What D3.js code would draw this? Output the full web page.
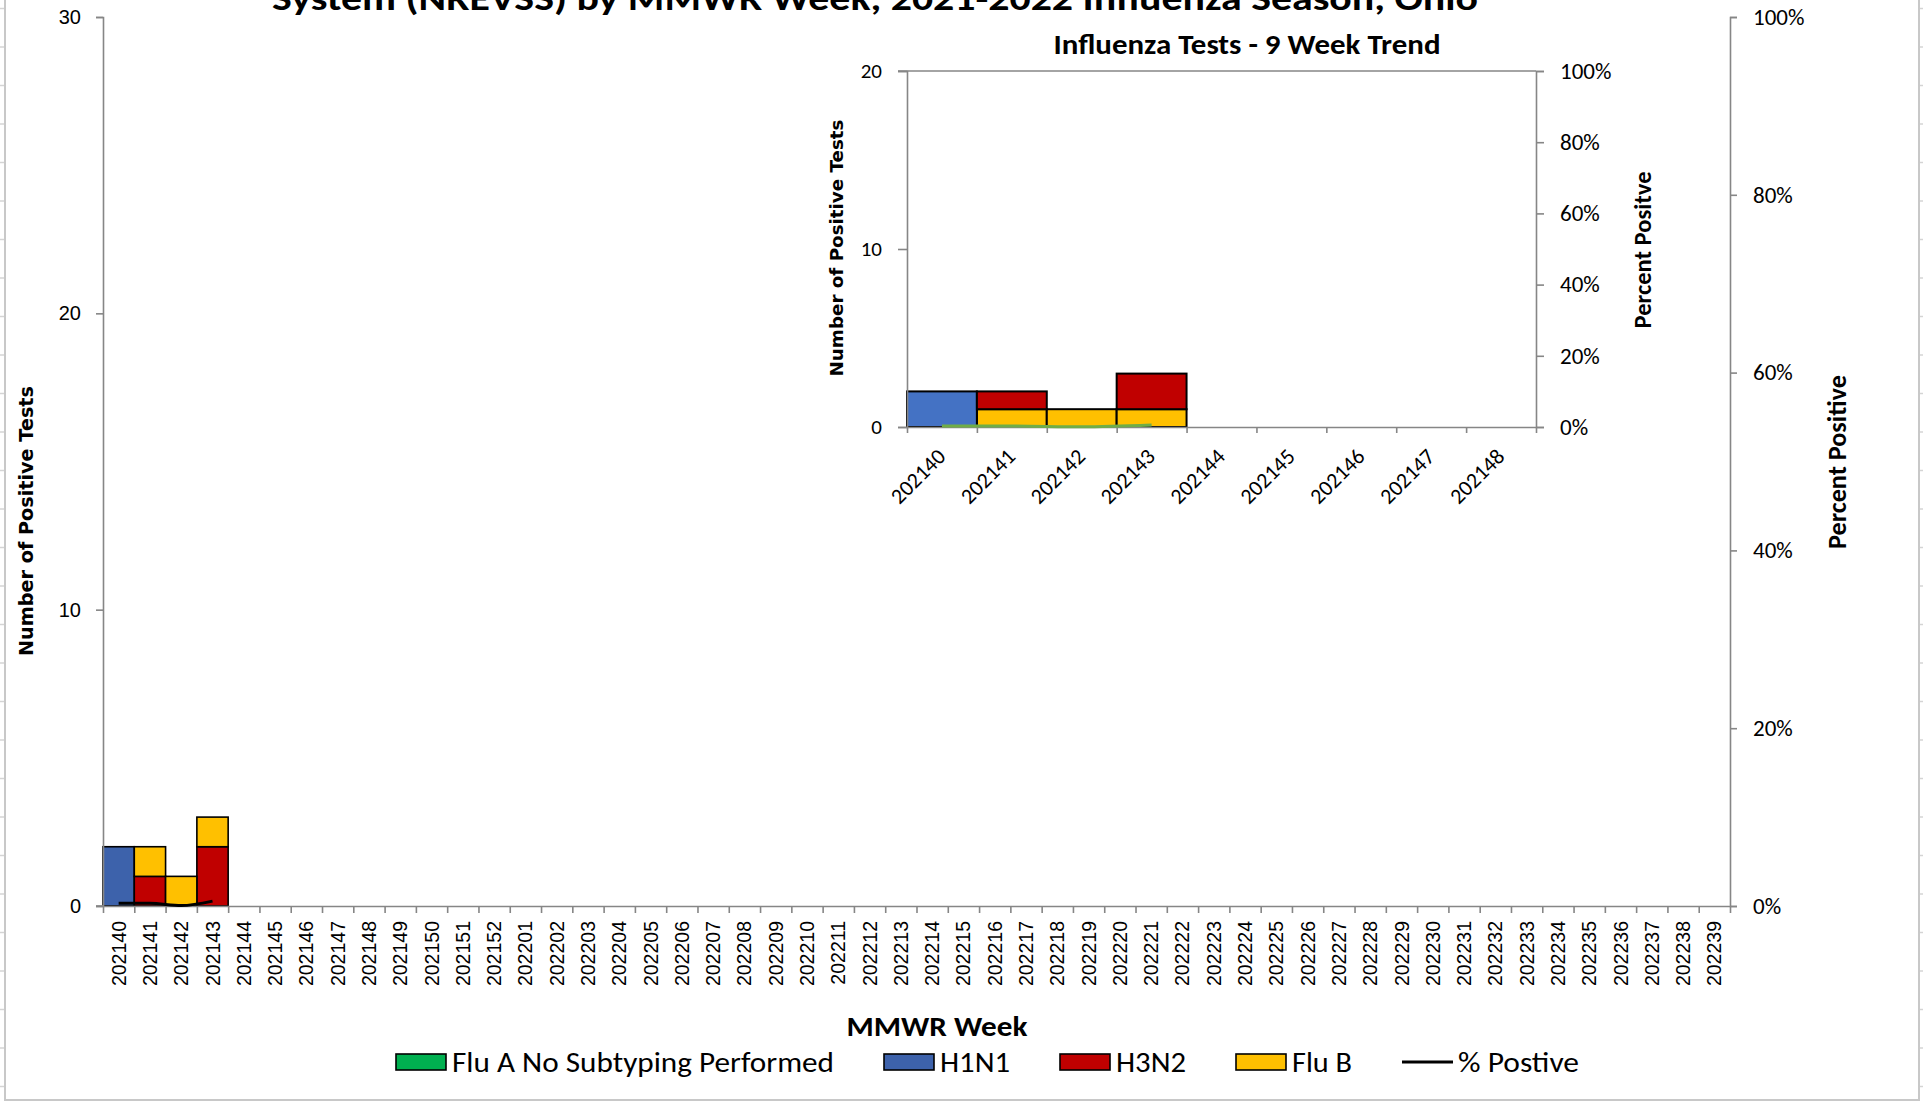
<!DOCTYPE html>
<html>
<head>
<meta charset="utf-8">
<script src="https://cdn.jsdelivr.net/npm/d3@7"></script>
<style>
  html, body { margin: 0; padding: 0; background: #fff; }
  svg { display: block; }
</style>
</head>
<body>
<svg id="chart" width="1923" height="1102"></svg>
<script>
// ---------------- DATA ----------------
const weeks = ["202140","202141","202142","202143","202144","202145","202146","202147","202148","202149","202150","202151","202152",
  "202201","202202","202203","202204","202205","202206","202207","202208","202209","202210","202211","202212","202213",
  "202214","202215","202216","202217","202218","202219","202220","202221","202222","202223","202224","202225","202226",
  "202227","202228","202229","202230","202231","202232","202233","202234","202235","202236","202237","202238","202239"];
const fluA = [0,0,0,0];
const h1n1 = [2,0,0,0];
const h3n2 = [0,1,0,2];
const fluB = [0,1,1,1];
const pctPositive = [0.003,0.003,0.0005,0.0055];

const insetWeeks = ["202140","202141","202142","202143","202144","202145","202146","202147","202148"];
const insetFluA = [0,0,0,0];
const insetFluB = [0,1,1,1];
const insetH1N1 = [2,0,0,0];
const insetH3N2 = [0,1,0,2];
const insetPct = [0.003,0.003,0.0005,0.0055];

const leftTicks = [0,10,20,30];
const pctTicks = [0,0.2,0.4,0.6,0.8,1];
const insetLeftTicks = [0,10,20];

const seriesNames = ["Flu A No Subtyping Performed","H1N1","H3N2","Flu B"];
const legendLabels = ["Flu A No Subtyping Performed","H1N1","H3N2","Flu B","% Postive"];

// ---------------- STYLE ----------------
const colMain = {"Flu A No Subtyping Performed":"#00b050","H1N1":"#3d62ab","H3N2":"#c00000","Flu B":"#ffc000"};
const colInset = {"Flu A No Subtyping Performed":"#00b050","H1N1":"#4472c4","H3N2":"#c00000","Flu B":"#ffc000"};
const axisCol = "#868686";
const cal = "Carlito, Calibri, Lato, sans-serif";
const arial = "'Liberation Sans', Arial, sans-serif";
const verd = "'DejaVu Sans', Verdana, sans-serif";

const svg = d3.select("#chart");

// ---------------- SPREADSHEET FRAME ----------------
const frame = svg.append("g");
const gridYs = d3.range(8.5, 1102, 38.5);
frame.selectAll("line.gl").data(gridYs).join("line")
  .attr("x1",0).attr("x2",4).attr("y1",d=>d).attr("y2",d=>d).attr("stroke","#d4d4d4").attr("stroke-width",1.5);
frame.selectAll("line.gr").data(gridYs).join("line")
  .attr("x1",1920).attr("x2",1923).attr("y1",d=>d).attr("y2",d=>d).attr("stroke","#d4d4d4").attr("stroke-width",1.5);
frame.append("path").attr("d","M5,0 V1100 H1919 V0").attr("fill","none").attr("stroke","#c8c8c8").attr("stroke-width",2);

// ---------------- MAIN CHART ----------------
const x = d3.scaleBand().domain(weeks).range([103,1730]).padding(0);
const y = d3.scaleLinear().domain([0,30]).range([906,17]);
const yR = d3.scaleLinear().domain([0,1]).range([906,17]);
const xi = d3.scaleLinear().domain([0,weeks.length]).range([103,1730]);

// stacked data: order bottom -> top : FluA, H1N1, H3N2, FluB
const mainRows = weeks.map((w,i)=>({week:w,
  "Flu A No Subtyping Performed": fluA[i]||0, "H1N1": h1n1[i]||0, "H3N2": h3n2[i]||0, "Flu B": fluB[i]||0}));
const mainStack = d3.stack().keys(["Flu A No Subtyping Performed","H1N1","H3N2","Flu B"])(mainRows);

const gMain = svg.append("g");
gMain.selectAll("g.layer").data(mainStack).join("g")
  .attr("fill", d=>colMain[d.key])
  .selectAll("rect").data(d=>d.filter(p=>p[1]-p[0]>0)).join("rect")
  .attr("x", d=>x(d.data.week)).attr("width", x.bandwidth())
  .attr("y", d=>y(d[1])).attr("height", d=>y(d[0])-y(d[1]))
  .attr("stroke","#000").attr("stroke-width",1.6);

// axes
const axL = gMain.append("g").attr("transform","translate(103,0)")
  .call(d3.axisLeft(y).tickValues(leftTicks).tickSize(7).tickPadding(15));
const axR = gMain.append("g").attr("transform","translate(1730,0)")
  .call(d3.axisRight(yR).tickValues(pctTicks).tickFormat(d3.format(".0%")).tickSize(7).tickPadding(16));
const axBt = gMain.append("g").attr("transform","translate(0,906)")
  .call(d3.axisBottom(xi).tickValues(d3.range(weeks.length+1)).tickFormat("").tickSize(7).tickSizeOuter(0));
const axBl = gMain.append("g").attr("transform","translate(0,906)")
  .call(d3.axisBottom(x).tickSize(0).tickPadding(0));
axBl.select(".domain").remove();
axBl.selectAll("text")
  .attr("transform","translate(0,9) rotate(-90)")
  .attr("text-anchor","end").attr("x",-6).attr("y",0).attr("dy","0.36em")
  .style("font-family",arial).style("font-size","19.5px").attr("fill","#000");
[axL,axR,axBt].forEach(a=>{
  a.select(".domain").attr("stroke",axisCol).attr("stroke-width",1.6);
  a.selectAll(".tick line").attr("stroke",axisCol).attr("stroke-width",1.6);
});
axL.selectAll("text").style("font-family",arial).style("font-size","20px").attr("fill","#000");
axR.selectAll("text").style("font-family",cal).style("font-size","23px").attr("fill","#000");
gMain.append("line").attr("x1",96).attr("x2",103).attr("y1",906).attr("y2",906).attr("stroke",axisCol).attr("stroke-width",1.6);

// percent line
const pctPts = pctPositive.map((v,i)=>({week:weeks[i],v}));
gMain.append("path").datum(pctPts)
  .attr("d", d3.line().x(d=>x(d.week)+x.bandwidth()/2).y(d=>yR(d.v)).curve(d3.curveMonotoneX))
  .attr("fill","none").attr("stroke","#000").attr("stroke-width",3);

// titles
svg.append("text").attr("x",875).attr("y",10).attr("text-anchor","middle")
  .attr("textLength",1206).attr("lengthAdjust","spacingAndGlyphs")
  .style("font-family",cal).style("font-weight","bold").style("font-size","34px")
  .text("System (NREVSS) by MMWR Week,  2021-2022 Influenza Season, Ohio");
svg.append("text").attr("transform","translate(33,521) rotate(-90)").attr("text-anchor","middle")
  .attr("textLength",270).attr("lengthAdjust","spacingAndGlyphs")
  .style("font-family",verd).style("font-weight","bold").style("font-size","19px")
  .text("Number of Positive Tests");
svg.append("text").attr("transform","translate(1846,462) rotate(-90)").attr("text-anchor","middle")
  .attr("textLength",174).attr("lengthAdjust","spacingAndGlyphs")
  .style("font-family",cal).style("font-weight","bold").style("font-size","26px")
  .text("Percent Positive");
svg.append("text").attr("x",937).attr("y",1036).attr("text-anchor","middle")
  .attr("textLength",181).attr("lengthAdjust","spacingAndGlyphs")
  .style("font-family",cal).style("font-weight","bold").style("font-size","29px")
  .text("MMWR Week");

// legend
const legW = [382,70,70,60,121];
const lg = svg.append("g");
let lx = 396;
legendLabels.forEach((lab,i)=>{
  if (i<4) {
    lg.append("rect").attr("x",lx).attr("y",1054).attr("width",50).attr("height",16)
      .attr("fill",colMain[lab]).attr("stroke","#000").attr("stroke-width",1.6);
  } else {
    lg.append("line").attr("x1",lx).attr("x2",lx+51).attr("y1",1062).attr("y2",1062)
      .attr("stroke","#000").attr("stroke-width",3);
  }
  lg.append("text").attr("x",lx+56).attr("y",1072)
    .attr("textLength",legW[i]).attr("lengthAdjust","spacingAndGlyphs")
    .style("font-family",cal).style("font-size","28px").text(lab);
  lx += 56 + legW[i] + 50;
});

// ---------------- INSET ----------------
const gi = svg.append("g");
const ix = d3.scaleBand().domain(insetWeeks).range([907,1536]).padding(0);
const ixi = d3.scaleLinear().domain([0,insetWeeks.length]).range([907,1536]);
const iy = d3.scaleLinear().domain([0,20]).range([427,71]);
const iyR = d3.scaleLinear().domain([0,1]).range([427,71]);

const insetRows = insetWeeks.map((w,i)=>({week:w,
  "Flu A No Subtyping Performed": insetFluA[i]||0, "Flu B": insetFluB[i]||0, "H1N1": insetH1N1[i]||0, "H3N2": insetH3N2[i]||0}));
const insetStack = d3.stack().keys(["Flu A No Subtyping Performed","Flu B","H1N1","H3N2"])(insetRows);
gi.selectAll("g.layer").data(insetStack).join("g")
  .attr("fill", d=>colInset[d.key])
  .selectAll("rect").data(d=>d.filter(p=>p[1]-p[0]>0)).join("rect")
  .attr("x", d=>ix(d.data.week)).attr("width", ix.bandwidth())
  .attr("y", d=>iy(d[1])).attr("height", d=>iy(d[0])-iy(d[1]))
  .attr("stroke","#000").attr("stroke-width",2);

gi.append("line").attr("x1",898).attr("x2",1536).attr("y1",71).attr("y2",71).attr("stroke",axisCol).attr("stroke-width",1.6);
const iaL = gi.append("g").attr("transform","translate(907,0)")
  .call(d3.axisLeft(iy).tickValues(insetLeftTicks).tickSize(9).tickPadding(16));
const iaR = gi.append("g").attr("transform","translate(1536,0)")
  .call(d3.axisRight(iyR).tickValues(pctTicks).tickFormat(d3.format(".0%")).tickSize(8).tickPadding(16));
const iaBt = gi.append("g").attr("transform","translate(0,427)")
  .call(d3.axisBottom(ixi).tickValues(d3.range(insetWeeks.length+1)).tickFormat("").tickSize(6).tickSizeOuter(0));
const iaBl = gi.append("g").attr("transform","translate(0,427)")
  .call(d3.axisBottom(ix).tickSize(0).tickPadding(0));
iaBl.select(".domain").remove();
iaBl.selectAll("text")
  .attr("transform","translate(-6,20) rotate(-45)")
  .attr("text-anchor","end").attr("x",0).attr("y",0).attr("dy","0.7em")
  .style("font-family",cal).style("font-size","22px").attr("fill","#000");
[iaL,iaR,iaBt].forEach(a=>{
  a.select(".domain").attr("stroke",axisCol).attr("stroke-width",1.6);
  a.selectAll(".tick line").attr("stroke",axisCol).attr("stroke-width",1.6);
});
iaL.selectAll("text").style("font-family",cal).style("font-size","21px").attr("fill","#000");
iaR.selectAll("text").style("font-family",cal).style("font-size","23px").attr("fill","#000");

const insetPts = insetPct.map((v,i)=>({week:insetWeeks[i],v}));
gi.append("path").datum(insetPts)
  .attr("d", d3.line().x(d=>ix(d.week)+ix.bandwidth()/2).y(d=>iyR(d.v)).curve(d3.curveMonotoneX))
  .attr("fill","none").attr("stroke","#70ad47").attr("stroke-width",3);

gi.append("text").attr("x",1247).attr("y",54).attr("text-anchor","middle")
  .attr("textLength",387).attr("lengthAdjust","spacingAndGlyphs")
  .style("font-family",cal).style("font-weight","bold").style("font-size","29px")
  .text("Influenza Tests - 9 Week Trend");
gi.append("text").attr("transform","translate(843,248) rotate(-90)").attr("text-anchor","middle")
  .attr("textLength",257).attr("lengthAdjust","spacingAndGlyphs")
  .style("font-family",verd).style("font-weight","bold").style("font-size","18px")
  .text("Number of Positive Tests");
gi.append("text").attr("transform","translate(1651,250) rotate(-90)").attr("text-anchor","middle")
  .attr("textLength",157).attr("lengthAdjust","spacingAndGlyphs")
  .style("font-family",cal).style("font-weight","bold").style("font-size","25px")
  .text("Percent Positve");
</script>
</body>
</html>
